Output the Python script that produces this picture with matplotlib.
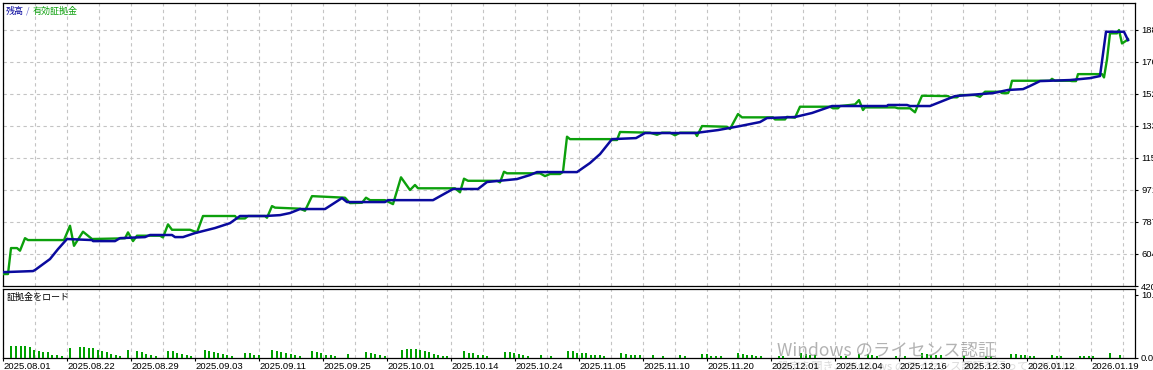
import matplotlib
matplotlib.use('Agg')
import matplotlib.pyplot as plt

# balance (blue) and equity (green), x = deal index along the tester axis
bal_t = [1, 30, 32, 47, 55, 64, 89, 90, 112, 117, 142, 147, 169, 172, 180, 192, 212, 227, 237,
         262, 277, 287, 297, 322, 339, 344, 382, 385, 430, 450, 475, 484, 514, 527, 534, 574,
         587, 597, 609, 633, 642, 692, 715, 737, 757, 764, 792, 809, 829, 884, 885, 904, 907,
         927, 952, 990, 1005, 1020, 1027, 1037, 1067, 1087, 1097, 1103, 1121, 1125]
bal_v = [500, 506, 512, 575, 632, 690, 684, 678, 678, 695, 701, 713, 713, 701, 701, 724, 753, 781, 822,
         822, 827, 839, 862, 862, 925, 902, 902, 913, 913, 977, 977, 1017, 1034, 1057, 1074, 1074,
         1126, 1177, 1263, 1269, 1298, 1298, 1315, 1338, 1361, 1384, 1390, 1413, 1453, 1453, 1459, 1459, 1453,
         1453, 1510, 1527, 1545, 1550, 1568, 1596, 1602, 1613, 1625, 1879, 1879, 1831]

eq_t = [1, 5, 8, 14, 17, 22, 25, 61, 67, 71, 80, 89, 122, 125, 130, 134, 157, 160, 165, 169, 187,
        194, 200, 232, 234, 242, 245, 262, 264, 269, 272, 297, 302, 309, 342, 347, 359, 363, 367,
        382, 390, 398, 407, 412, 415, 452, 457, 461, 465, 494, 497, 501, 504, 537, 542, 547, 557,
        560, 564, 567, 607, 609, 614, 617, 647, 654, 659, 667, 672, 677, 692, 694, 699, 724, 727,
        735, 739, 770, 772, 782, 784, 792, 797, 827, 830, 835, 837, 852, 856, 860, 862, 892, 895,
        907, 912, 915, 919, 945, 947, 954, 957, 972, 977, 982, 997, 999, 1005, 1007, 1009, 1047,
        1049, 1052, 1067, 1069, 1073, 1075, 1099, 1101, 1104, 1107, 1114, 1116, 1119, 1123, 1125]
eq_v = [489, 489, 638, 638, 623, 695, 684, 684, 766, 651, 732, 690, 694, 728, 678, 709, 709, 699, 774, 743, 743,
        728, 822, 822, 808, 808, 822, 822, 812, 879, 870, 864, 852, 936, 927, 896, 898, 927, 913,
        913, 890, 1044, 971, 1000, 981, 981, 958, 1036, 1024, 1024, 1015, 1076, 1067, 1067, 1051, 1063, 1063,
        1076, 1277, 1263, 1263, 1258, 1258, 1304, 1300, 1288, 1300, 1300, 1285, 1300, 1300, 1281, 1338, 1334, 1321,
        1407, 1388, 1388, 1376, 1376, 1391, 1386, 1449, 1449, 1440, 1440, 1453, 1462, 1487, 1430, 1445, 1445, 1440,
        1440, 1417, 1459, 1512, 1510, 1503, 1503, 1516, 1516, 1506, 1535, 1535, 1527, 1527, 1550, 1598, 1598,
        1609, 1598, 1598, 1596, 1596, 1636, 1636, 1617, 1720, 1870, 1870, 1889, 1812, 1827, 1837]

# margin load bars
load_t = [8, 13, 18, 22, 27, 31, 36, 40, 45, 49, 54, 59,
          67, 77, 81, 86, 90, 95, 99, 104, 108, 113, 117,
          125, 134, 139, 143, 148, 153,
          165, 170, 174, 179, 184, 188,
          202, 206, 211, 215, 220, 224, 229,
          242, 247, 251, 256,
          269, 274, 278, 283, 288, 292, 297,
          309, 314, 318, 323, 328, 332,
          345,
          363, 368, 372, 377, 382,
          399, 404, 408, 413, 417, 422, 426, 431, 435, 440, 444,
          461, 466, 470, 475, 480, 484,
          502, 507, 511, 516, 520, 525,
          538, 548,
          565, 570, 574, 579, 583, 588, 592, 597, 601,
          618, 623, 628, 632, 637,
          650, 660,
          677, 682,
          699, 704, 708, 713, 718,
          735, 740, 744, 749, 753, 758,
          776, 780,
          798, 803, 807, 812,
          838, 843, 856, 865, 869, 874,
          893, 902,
          919, 924, 928, 933, 938,
          961, 983, 988,
          1008, 1013, 1018, 1022, 1027, 1031,
          1049, 1054, 1058,
          1077, 1081, 1086, 1090,
          1107, 1117]
load_v = [1.80, 1.80, 1.80, 1.80, 1.64, 1.20, 1.10, 0.87, 0.82, 0.44, 0.33, 0.16,
          1.48, 1.64, 1.64, 1.59, 1.48, 1.15, 1.10, 0.87, 0.54, 0.33, 0.28,
          1.15, 0.98, 0.87, 0.54, 0.44, 0.28,
          1.03, 1.03, 0.71, 0.54, 0.44, 0.21,
          1.15, 1.03, 0.87, 0.71, 0.54, 0.33, 0.21,
          0.66, 0.66, 0.44, 0.33,
          1.15, 0.98, 0.87, 0.77, 0.54, 0.33, 0.28,
          0.98, 0.87, 0.71, 0.44, 0.33, 0.21,
          0.49,
          0.82, 0.71, 0.54, 0.44, 0.28,
          1.20, 1.31, 1.31, 1.31, 1.15, 0.98, 0.82, 0.54, 0.44, 0.28, 0.21,
          0.98, 0.77, 0.66, 0.44, 0.38, 0.21,
          0.82, 0.82, 0.66, 0.49, 0.33, 0.21,
          0.38, 0.16,
          0.98, 0.98, 0.77, 0.66, 0.66, 0.44, 0.44, 0.33, 0.21,
          0.66, 0.49, 0.38, 0.33, 0.33,
          0.38, 0.16,
          0.33, 0.21,
          0.54, 0.49, 0.21, 0.21, 0.16,
          0.66, 0.49, 0.44, 0.33, 0.21, 0.16,
          0.16, 0.16,
          0.66, 0.49, 0.38, 0.33,
          0.16, 0.16, 0.49, 0.49, 0.33, 0.21,
          0.16, 0.16,
          0.66, 0.49, 0.33, 0.33, 0.33,
          0.16, 0.16, 0.16,
          0.49, 0.49, 0.38, 0.33, 0.21, 0.16,
          0.33, 0.21, 0.16,
          0.28, 0.21, 0.21, 0.16,
          0.66, 0.33]

dates = ['2025.08.01', '2025.08.22', '2025.08.29', '2025.09.03', '2025.09.11', '2025.09.25',
         '2025.10.01', '2025.10.14', '2025.10.24', '2025.11.05', '2025.11.10', '2025.11.20',
         '2025.12.01', '2025.12.04', '2025.12.16', '2025.12.30', '2026.01.12', '2026.01.19']
y_ticks = [420.4, 604.0, 787.6, 971.2, 1154.8, 1338.4, 1522.0, 1705.6, 1889.2]
load_ticks = [0, 10]

BLUE = '#0a0a9e'
GREEN = '#0ca00c'
GRID = '#c4c4c4'
JP = ['Noto Sans CJK JP', 'DejaVu Sans']

plt.rcParams['font.family'] = ['Liberation Sans', 'DejaVu Sans']

W, H = 1153, 370
fig = plt.figure(figsize=(W / 100, H / 100), dpi=100)
ax = fig.add_axes([2.5 / W, 1 - 286 / H, (1135 - 2.5) / W, (286 - 2.7) / H])
ax2 = fig.add_axes([2.5 / W, 1 - 357.5 / H, (1135 - 2.5) / W, (357.5 - 288.5) / H])

ax.plot(eq_t, eq_v, color=GREEN, lw=1.7, zorder=3)
ax.plot(bal_t, bal_v, color=BLUE, lw=1.8, zorder=4)
ax2.bar(load_t, load_v, width=2.7, color='#00a000', zorder=3)

step = 32
minor = list(range(step, 1121, step))
major = [2 * step * i for i in range(len(dates))]

for a in (ax, ax2):
    a.set_xlim(-0.5, 1132)
    a.set_xticks(major)
    a.set_xticks(minor, minor=True)
    a.grid(axis='x', which='both', color=GRID, ls=(0, (3, 3)), lw=0.8)
    a.yaxis.tick_right()
    a.tick_params(axis='y', direction='out', length=2.2, pad=2.2, labelsize=6.8, colors='black')
    a.tick_params(axis='x', which='minor', length=0)
    for s in a.spines.values():
        s.set_linewidth(0.9)
        s.set_color('black')
    a.set_axisbelow(True)

ax.set_ylim(420.4, 2045.8)
ax.set_yticks(y_ticks)
ax.set_yticklabels(['%.2f' % v for v in y_ticks])
ax.grid(axis='y', color=GRID, ls=(0, (3, 3)), lw=0.8)
ax.tick_params(axis='x', which='both', length=0, labelbottom=False)

ax2.set_ylim(0, 11)
ax2.set_yticks(load_ticks)
ax2.set_yticklabels(['0.00', '10.00'])
ax2.set_xticklabels(dates, ha='left')
ax2.tick_params(axis='x', which='major', direction='out', length=2.2, pad=1, labelsize=6.8)

# legend-like captions
fig.text(6 / W, 1 - 11 / H, '残高', fontsize=6.5, color=BLUE, va='center', family=JP)
fig.text(26 / W, 1 - 11 / H, '/', fontsize=6.5, color='#6a6ad0', va='center', family=JP)
fig.text(33 / W, 1 - 11 / H, '有効証拠金', fontsize=6.5, color=GREEN, va='center', family=JP)
fig.text(7 / W, 1 - 297 / H, '証拠金をロード', fontsize=6.5, color='black', va='center', family=JP)

# Windows activation watermark seen on the screenshot
fig.text(777 / W, 1 - 356 / H, 'Windows のライセンス認証', fontsize=12.6, color='#9a9a9a',
         alpha=0.75, va='baseline', family=JP, zorder=10)
fig.text(778 / W, 1 - 361 / H, '設定を開き、Windows のライセンス認証を行ってください。', fontsize=8,
         color='#dadada', va='top', family=JP, zorder=-1)

fig.savefig('out.png', dpi=100)
